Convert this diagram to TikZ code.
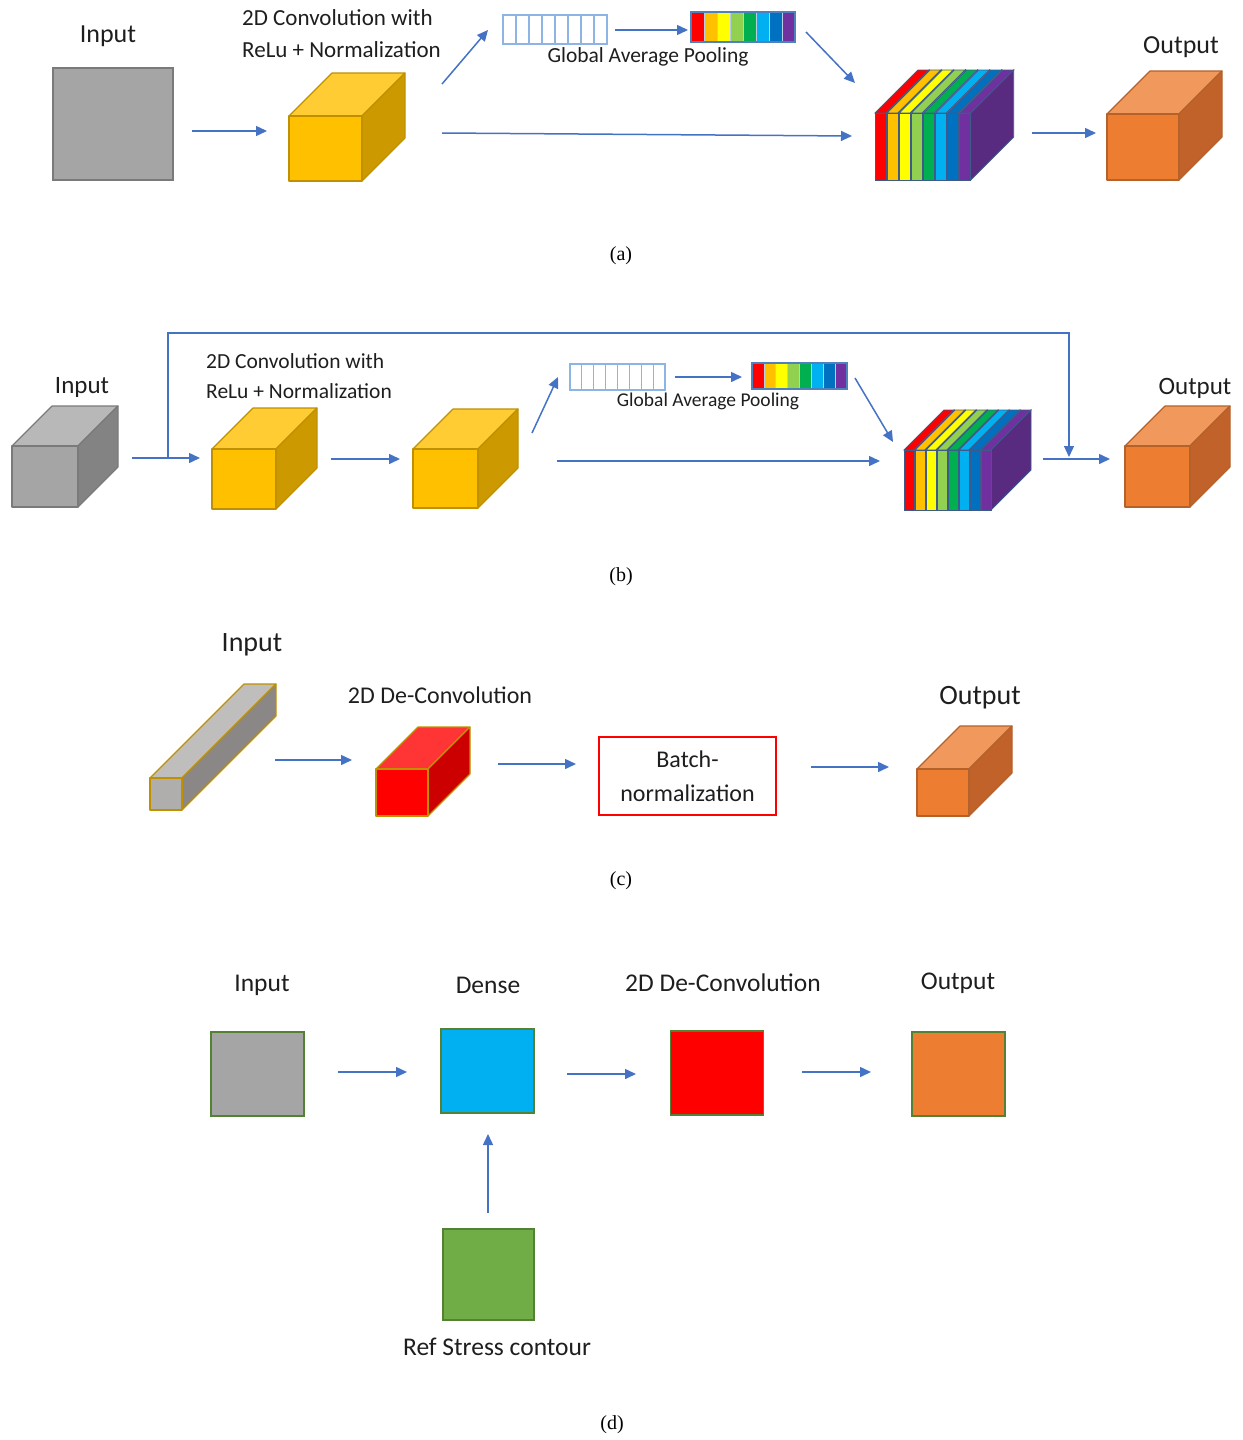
\documentclass[tikz,border=0pt]{standalone}
\usepackage{fontspec}
\setmainfont{Carlito}
\newfontfamily\capfont{Liberation Serif}
\usetikzlibrary{arrows.meta,fit}

\definecolor{arrowblue}{HTML}{4472C4}
\definecolor{txtgray}{HTML}{1E1E1E}
\definecolor{yelF}{HTML}{FFC000}\definecolor{yelT}{HTML}{FFCD33}
\definecolor{yelS}{HTML}{CC9A00}\definecolor{yelB}{HTML}{BF9000}
\definecolor{ornF}{HTML}{ED7D31}\definecolor{ornT}{HTML}{F1995C}
\definecolor{ornS}{HTML}{C0622A}\definecolor{ornB}{HTML}{B4612A}
\definecolor{gryF}{HTML}{A5A5A5}\definecolor{gryT}{HTML}{B8B8B8}
\definecolor{gryS}{HTML}{838383}\definecolor{gryB}{HTML}{7A7A7A}
\definecolor{redF}{HTML}{FF0000}\definecolor{redT}{HTML}{FF3535}
\definecolor{redS}{HTML}{CC0000}\definecolor{redB}{HTML}{BF9000}
\definecolor{barF}{HTML}{B0ADAD}\definecolor{barT}{HTML}{C0BDBD}
\definecolor{barS}{HTML}{8B8787}\definecolor{barB}{HTML}{BF9000}
\definecolor{rbA}{HTML}{FF0000}\definecolor{rbB}{HTML}{FFC000}
\definecolor{rbC}{HTML}{FFFF00}\definecolor{rbD}{HTML}{92D050}
\definecolor{rbE}{HTML}{00B050}\definecolor{rbF}{HTML}{00B0F0}
\definecolor{rbG}{HTML}{0070C0}\definecolor{rbH}{HTML}{7030A0}
\definecolor{sideP}{HTML}{582A80}
\definecolor{slab}{HTML}{3D5A8A}
\definecolor{cellB}{HTML}{8DB4E2}
\definecolor{poolB}{HTML}{4F81BD}
\definecolor{sqB}{HTML}{548235}
\definecolor{sqG}{HTML}{70AD47}
\definecolor{sqC}{HTML}{00B0F0}

% name, front top-left x y, front bottom-right x y, depth, colour set
\newcommand{\blockcube}[7]{%
  \filldraw[face, fill=#7T, draw=#7B] (#2,#3) -- ++(#6,-#6) -- (#4+#6,#3-#6) -- (#4,#3) -- cycle;
  \filldraw[face, fill=#7S, draw=#7B] (#4,#3) -- (#4+#6,#3-#6) -- (#4+#6,#5-#6) -- (#4,#5) -- cycle;
  \node[face, fill=#7F, draw=#7B, fit={(#2,#3) (#4,#5)}, inner sep=0pt] (#1) {};
}
% name, first x, front top y, bottom y, pitch, slab width, depth
\newcommand{\rainbowstack}[7]{%
  \foreach \c [count=\i from 0, evaluate=\i as \xl using #2+\i*#5] in {rbA,rbB,rbC,rbD,rbE,rbF,rbG,rbH}{
    \ifnum\i=7 \def\sidec{sideP}\else\def\sidec{white}\fi
    \filldraw[fill=\c, draw=slab, line width=0.9pt] (\xl,#3) -- ++(#7,-#7) -- ++(#6,0) -- (\xl+#6,#3) -- cycle;
    \filldraw[fill=\sidec, draw=slab, line width=0.9pt] (\xl+#6,#3) -- ++(#7,-#7) -- ++(0,#4-#3) -- (\xl+#6,#4) -- cycle;
    \filldraw[fill=\c, draw=slab, line width=0.9pt] (\xl,#3) rectangle (\xl+#6,#4);
  }
  \node[fit={(#2,#3) (#2+7*#5+#6,#4)}, inner sep=0pt] (#1) {};
}
% name, x1, y1, x2, y2
\newcommand{\emptybar}[5]{%
  \node[draw=cellB, line width=1.1pt, fill=white, fit={(#2,#3) (#4,#5)}, inner sep=0pt] (#1) {};
  \foreach \i in {1,...,7}
    \draw[cellB, line width=1.1pt] ({#2+\i*(#4-#2)/8},#3) -- ({#2+\i*(#4-#2)/8},#5);
}
\newcommand{\colorbar}[5]{%
  \foreach \c [count=\i from 0] in {rbA,rbB,rbC,rbD,rbE,rbF,rbG,rbH}
    \filldraw[fill=\c, draw=poolB!40, line width=0.7pt] ({#2+\i*(#4-#2)/8},#3) rectangle ({#2+(\i+1)*(#4-#2)/8},#5);
  \node[draw=poolB, line width=1.2pt, fit={(#2,#3) (#4,#5)}, inner sep=0pt] (#1) {};
}

\begin{document}
\begin{tikzpicture}[x=1pt,y=-1pt,
  face/.style={line width=1.1pt, line join=round},
  link/.style={draw=arrowblue, line width=1.5pt, -{Triangle[length=11pt,width=10pt]}},
  txt/.style={inner sep=0pt, text=txtgray, font=\fontsize{#1}{#1}\selectfont},
  caption/.style={inner sep=0pt, font=\capfont\fontsize{20}{20}\selectfont},
  sq/.style={draw=sqB, line width=1.4pt, minimum width=93, minimum height=84, inner sep=0pt}]
\useasboundingbox (0,0) rectangle (1242,1440);

% (a)
\node[fill=gryF, draw=gryB, line width=1.4pt, minimum width=120, minimum height=112] (inA) at (113,124) {};
\node[txt=26] (inAl) at (108,36) {Input};
\blockcube{convA}{289}{116}{362}{181}{43}{yel}
\node[txt=23, anchor=west] (convAl1) at (242,18) {2D Convolution with};
\node[txt=23, anchor=west] (convAl2) at (242,50) {ReLu + Normalization};
\emptybar{poolA}{503}{15}{607}{44}
\colorbar{gapA}{691}{12}{795}{42}
\node[txt=21.5] (gapAl) at (648,57) {Global Average Pooling};
\rainbowstack{stackA}{875}{113}{180}{12.1}{11}{43}
\blockcube{outA}{1107}{114}{1179}{180}{43}{orn}
\node[txt=26] (outAl) at (1181,47) {Output};
\path (192,131) coordinate (a1) (267,131) coordinate (a2)
      (442,84) coordinate (a3) (488,30) coordinate (a4)
      (615,30) coordinate (a5) (688,30) coordinate (a6)
      (806,32) coordinate (a7) (855,83) coordinate (a8)
      (442,133) coordinate (a9) (852,136) coordinate (a10)
      (1032,133) coordinate (a11) (1096,133) coordinate (a12);
\draw[link] (a1) -- (a2);
\draw[link] (a3) -- (a4);
\draw[link] (a5) -- (a6);
\draw[link] (a7) -- (a8);
\draw[link] (a9) -- (a10);
\draw[link] (a11) -- (a12);
\node[caption] (capA) at (621,256) {(a)};

% (b)
\blockcube{inB}{12}{446}{78}{507}{40}{gry}
\node[txt=25] (inBl) at (82,387) {Input};
\blockcube{convB1}{212}{449}{276}{509}{41}{yel}
\blockcube{convB2}{413}{449}{478}{508}{40}{yel}
\node[txt=21.5, anchor=west] (convBl1) at (206,361) {2D Convolution with};
\node[txt=21.5, anchor=west] (convBl2) at (206,391) {ReLu + Normalization};
\emptybar{poolB}{570}{364}{665}{390}
\colorbar{gapB}{752}{363}{847}{389}
\node[txt=19.5] (gapBl) at (708,401) {Global Average Pooling};
\rainbowstack{stackB}{904}{450}{510}{11}{10}{40}
\blockcube{outB}{1125}{446}{1190}{507}{40}{orn}
\node[txt=25] (outBl) at (1195,388) {Output};
\path (132,458) coordinate (b1) (200,458) coordinate (b2)
      (331,459) coordinate (b3) (400,459) coordinate (b4)
      (532,433) coordinate (b5) (558,377) coordinate (b6)
      (675,377) coordinate (b7) (742,377) coordinate (b8)
      (855,378) coordinate (b9) (893,442) coordinate (b10)
      (557,461) coordinate (b11) (880,461) coordinate (b12)
      (1043,459) coordinate (b13) (1110,459) coordinate (b14)
      (168,458) coordinate (skip0) (1069,457) coordinate (skip1);
\draw[link] (b1) -- (b2);
\draw[link] (b3) -- (b4);
\draw[link] (b5) -- (b6);
\draw[link] (b7) -- (b8);
\draw[link] (b9) -- (b10);
\draw[link] (b11) -- (b12);
\draw[link] (b13) -- (b14);
\draw[link, line width=1.2pt] (skip0) -- ++(0,-125) -| (skip1);
\node[caption] (capB) at (621,577) {(b)};

% (c)
\blockcube{inC}{150}{778}{182}{810}{94}{bar}
\node[txt=28] (inCl) at (252,645) {Input};
\blockcube{deconvC}{376}{769}{428}{816}{42}{red}
\node[txt=24] (deconvCl) at (440,695) {2D De-Convolution};
\node[draw=red, line width=1.2pt, fill=white, minimum width=177, minimum height=78,
      txt=24, align=center] (bnC) at (687.5,776) {Batch-\\[10pt]normalization};
\blockcube{outC}{917}{769}{969}{816}{43}{orn}
\node[txt=28] (outCl) at (980,698) {Output};
\path (275,760) coordinate (c1) (352,760) coordinate (c2)
      (498,764) coordinate (c3) (576,764) coordinate (c4)
      (811,767) coordinate (c5) (889,767) coordinate (c6);
\draw[link] (c1) -- (c2);
\draw[link] (c3) -- (c4);
\draw[link] (c5) -- (c6);
\node[caption] (capC) at (621,881) {(c)};

% (d)
\node[sq, fill=gryF] (inD) at (257.5,1074) {};
\node[sq, fill=sqC] (denseD) at (487.5,1071) {};
\node[sq, fill=red] (deconvD) at (717,1073) {};
\node[sq, fill=ornF] (outD) at (958.5,1074) {};
\node[sq, fill=sqG, minimum width=91, minimum height=91] (refD) at (488.5,1274.5) {};
\node[txt=25.5] (inDl) at (262,985) {Input};
\node[txt=25.5] (denseDl) at (488,985) {Dense};
\node[txt=25.5] (deconvDl) at (723,983) {2D De-Convolution};
\node[txt=25.5] (outDl) at (958,983) {Output};
\node[txt=25.5] (refDl) at (497,1347) {Ref Stress contour};
\path (338,1072) coordinate (d1) (407,1072) coordinate (d2)
      (567,1074) coordinate (d3) (636,1074) coordinate (d4)
      (802,1072) coordinate (d5) (871,1072) coordinate (d6)
      (488,1213) coordinate (d7) (488,1134) coordinate (d8);
\draw[link] (d1) -- (d2);
\draw[link] (d3) -- (d4);
\draw[link] (d5) -- (d6);
\draw[link] (d7) -- (d8);
\node[caption] (capD) at (612,1425) {(d)};
\end{tikzpicture}
\end{document}
